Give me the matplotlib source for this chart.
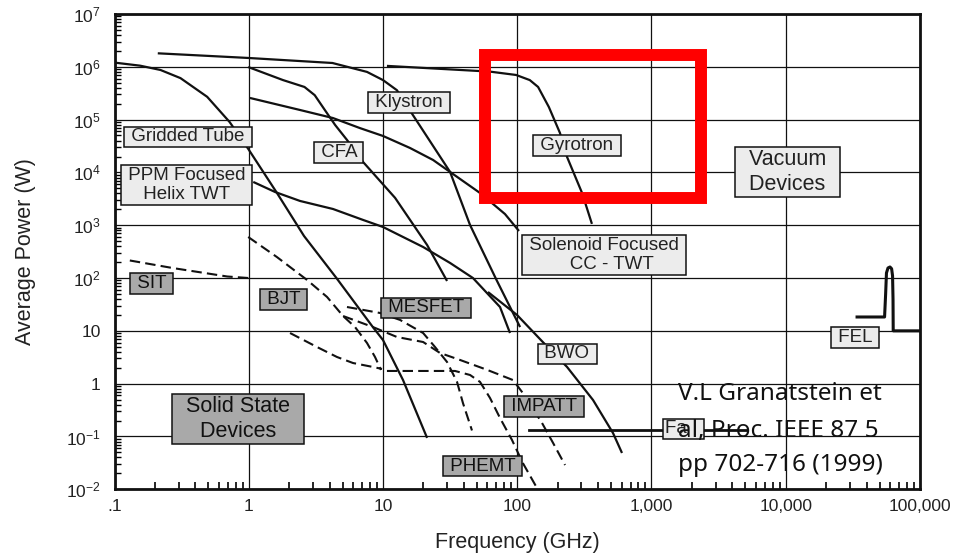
import numpy as np
import matplotlib
matplotlib.use("Agg")
import matplotlib.pyplot as plt
from matplotlib.ticker import LogLocator, FixedLocator, NullFormatter
from matplotlib.patches import Rectangle

plt.rcParams['font.family'] = ['Liberation Sans', 'DejaVu Sans']
plt.rcParams['mathtext.fontset'] = 'custom'
plt.rcParams['mathtext.rm'] = 'Liberation Sans'
plt.rcParams['mathtext.default'] = 'regular'

# ====================================
# 1. 数据 (频率 GHz, 平均功率 W)
# ====================================

# 真空器件 (实线)
gridded_f = [0.1, 0.155, 0.22, 0.31, 0.49, 0.72, 0.99, 1.62, 2.58, 4.5, 8.4, 10, 14.1, 21.3]
gridded_p = [1.2e6, 1.05e6, 8.7e5, 6.1e5, 2.7e5, 9.0e4, 2.8e4, 4.1e3, 625, 100, 11.8, 6.7, 1.17, 0.094]

klystron_f = [0.21, 0.99, 4.2, 7.6, 10, 12.7, 16.7, 31.6, 44.5, 69.5, 93, 105]
klystron_p = [1.8e6, 1.47e6, 1.18e6, 8.0e5, 5.6e5, 3.6e5, 1.22e5, 1.02e4, 1010, 96, 21.8, 11.8]

cfa_f = [0.99, 1.8, 2.6, 3.1, 3.7, 4.4, 5.4, 7.1, 12.3, 21.3, 30]
cfa_p = [9.9e5, 5.6e5, 4.15e5, 2.9e5, 1.5e5, 7.9e4, 4.1e4, 1.58e4, 3.3e3, 423, 88]

cctwt_f = [1.02, 2.41, 4.24, 6.74, 10, 15.9, 23.6, 31.6, 52.8, 81, 103]
cctwt_p = [2.57e5, 1.52e5, 1.07e5, 6.9e4, 4.9e4, 2.9e4, 1.72e4, 1.02e4, 4.08e3, 1.63e3, 778]

gyrotron_f = [10.7, 62.7, 98, 124, 143, 172, 208, 235, 304, 360]
gyrotron_p = [1.04e6, 8.1e5, 7.0e5, 5.6e5, 4.15e5, 1.73e5, 5.6e4, 1.96e4, 4.08e3, 1.06e3]

ppm_f = [1.08, 1.57, 2.41, 4.24, 7.1, 10, 19.9, 31.6, 46.8, 59.5, 74.4, 88.3]
ppm_p = [6.6e3, 4.26e3, 2.88e3, 2.03e3, 1.26e3, 926, 387, 193, 100, 52, 28.3, 9.1]

bwo_f = [60.5, 99.6, 155, 235, 367, 517, 603]
bwo_p = [54.4, 20.0, 6.15, 2.07, 0.49, 0.116, 0.0487]

fa_f = [122, 5140]
fa_p = [0.13, 0.13]

fel_f = [34000, 54500, 55500, 56300, 57800, 59800, 61500, 62500, 63000, 63200, 100000]
fel_p = [18.3, 18.3, 50, 125, 155, 162, 150, 110, 40, 10, 10]

# 固态器件 (虚线)
sit_f = [0.13, 0.27, 0.69, 1.0]
sit_p = [215, 155, 107, 100]

bjt1_f = [0.99, 1.62, 2.72, 3.83, 5.04, 6.19, 7.6, 8.72, 9.66]
bjt1_p = [599, 250, 91.8, 43.8, 19.1, 11.8, 5.89, 3.2, 1.82]

bjt2_f = [2.03, 3.22, 4.54, 5.98, 8.42, 9.83]
bjt2_p = [9.1, 4.95, 3.2, 2.46, 2.07, 1.9]

mesfet_f = [5.39, 9.5, 13.4, 19.9, 24.4, 30.0, 35.6, 39.4, 46.0]
mesfet_p = [28.3, 21.8, 16.1, 9.1, 4.95, 2.57, 1.08, 0.43, 0.13]

phemt_f = [10.7, 23.6, 34.4, 44.5, 52.8, 62.7, 74.4, 91.4, 110, 143]
phemt_p = [1.74, 1.74, 1.74, 1.46, 1.08, 0.535, 0.224, 0.0858, 0.0315, 0.0097]

impatt_f = [5.04, 8.42, 12.7, 19.9, 26.6, 37.5, 59.5, 93, 110, 153, 185, 227]
impatt_p = [19.1, 11.8, 7.65, 6.15, 3.81, 2.81, 1.83, 1.17, 0.666, 0.18, 0.0752, 0.0288]

# 坐标轴刻度
x_ticks = [0.1, 1, 10, 100, 1000, 10000, 100000]
x_labels = ['.1', '1', '10', '100', '1,000', '10,000', '100,000']
y_ticks = [1e-2, 1e-1, 1, 10, 1e2, 1e3, 1e4, 1e5, 1e6, 1e7]
y_labels = ['$10^{-2}$', '$10^{-1}$', '1', '10', '$10^{2}$', '$10^{3}$',
            '$10^{4}$', '$10^{5}$', '$10^{6}$', '$10^{7}$']

# 标签 (文字, 频率, 功率, 字号)
light_labels = [
    (' Gridded Tube ', 0.353, 4.69e4, 13.5),
    (' PPM Focused \n Helix TWT ', 0.344, 5.78e3, 13.5),
    (' CFA ', 4.66, 2.38e4, 13.5),
    (' Klystron ', 15.6, 2.11e5, 13.5),
    (' Gyrotron ', 279, 3.24e4, 13.5),
    (' Solenoid Focused \n   CC - TWT', 443, 273, 13.5),
    (' BWO ', 235, 3.65, 13.5),
    (' FEL ', 32800, 7.48, 13.5),
    ('  Vacuum  \n  Devices  ', 10300, 1.02e4, 15.5),
]
dark_labels = [
    (' SIT ', 0.1887, 78.9, 13.5),
    (' BJT ', 1.815, 39.3, 13.5),
    (' MESFET ', 20.9, 27.1, 13.5),
    ('  Solid State  \n  Devices  ', 0.832, 0.214, 15.5),
    (' IMPATT ', 158, 0.37, 13.5),
    (' PHEMT ', 55.1, 0.0276, 13.5),
]

citation = ['V.L Granatstein et', 'al, Proc. IEEE 87 5', 'pp 702-716 (1999)']

# ====================================
# 2. 绘图
# ====================================

fig = plt.figure(figsize=(9.56, 5.59), dpi=100)
ax = fig.add_axes([0.1198, 0.1247, 0.8425, 0.8503])

ax.set_xscale('log')
ax.set_yscale('log')
ax.set_xlim(0.1, 1e5)
ax.set_ylim(1e-2, 1e7)

solid = dict(color='#111111', lw=1.6, solid_capstyle='butt', zorder=3)
for f, p in [(gridded_f, gridded_p), (klystron_f, klystron_p), (cfa_f, cfa_p),
             (cctwt_f, cctwt_p), (gyrotron_f, gyrotron_p), (ppm_f, ppm_p),
             (bwo_f, bwo_p)]:
    ax.plot(f, p, **solid)

ax.plot(fa_f, fa_p, color='#111111', lw=2.0, zorder=3)
ax.plot(fel_f, fel_p, color='#111111', lw=2.2, zorder=3)

dashed = dict(color='#111111', lw=1.5, linestyle=(0, (5, 2.5)), zorder=3)
for f, p in [(sit_f, sit_p), (bjt1_f, bjt1_p), (bjt2_f, bjt2_p),
             (mesfet_f, mesfet_p), (phemt_f, phemt_p), (impatt_f, impatt_p)]:
    ax.plot(f, p, **dashed)

# 标签框
for text, f, p, fs in light_labels:
    ax.text(f, p, text, fontsize=fs, ha='center', va='center', multialignment='center',
            color='#222222', zorder=5,
            bbox=dict(boxstyle='square,pad=0.1', fc='#ececec', ec='#111111', lw=1.1))
for text, f, p, fs in dark_labels:
    ax.text(f, p, text, fontsize=fs, ha='center', va='center', multialignment='center',
            color='#111111', zorder=5,
            bbox=dict(boxstyle='square,pad=0.1', fc='#a9a9a9', ec='#111111', lw=1.1))

ax.text(1730, 0.139, 'Fa   ', fontsize=13.5, ha='center', va='center', color='#222222',
        zorder=5, bbox=dict(boxstyle='square,pad=0.1', fc='#ececec', ec='#111111', lw=1.1))

# 坐标轴
ax.xaxis.set_major_locator(FixedLocator(x_ticks))
ax.set_xticklabels(x_labels, fontsize=12.5, color='#222222')
ax.yaxis.set_major_locator(FixedLocator(y_ticks))
ax.set_yticklabels(y_labels, fontsize=12.5, color='#222222')
ax.xaxis.set_minor_locator(LogLocator(base=10, subs=np.arange(2, 10), numticks=20))
ax.yaxis.set_minor_locator(LogLocator(base=10, subs=np.arange(2, 10), numticks=20))
ax.xaxis.set_minor_formatter(NullFormatter())
ax.yaxis.set_minor_formatter(NullFormatter())
ax.tick_params(axis='x', which='major', direction='in', length=0, pad=7)
ax.tick_params(axis='y', which='major', direction='in', length=0, pad=10)
ax.tick_params(axis='x', which='minor', direction='in', length=5, width=1.2)
ax.tick_params(axis='y', which='minor', direction='in', length=4, width=1.0)

ax.grid(True, which='major', color='#111111', lw=0.9, zorder=1)
ax.set_axisbelow(True)
for side in ['left', 'bottom', 'top', 'right']:
    ax.spines[side].set_linewidth(2.0)
    ax.spines[side].set_color('#111111')

ax.set_xlabel('Frequency (GHz)', fontsize=15.5, color='#222222')
ax.xaxis.set_label_coords(0.5, -0.089)
ax.set_ylabel('Average Power (W)', fontsize=15.5, color='#222222')
ax.yaxis.set_label_coords(-0.098, 0.5)

# 引用文字
for i, line in enumerate(citation):
    fig.text(0.7092, [0.2844, 0.2182, 0.1574][i], line, fontsize=17.5,
             family=['Noto Sans', 'DejaVu Sans'], color='#111111', va='baseline', zorder=10)

# 红色方框
fig.patches.append(Rectangle((0.5078, 0.6458), 0.2259, 0.2558, transform=fig.transFigure,
                             fill=False, ec='#ff0000', lw=8.6, zorder=10))

plt.savefig('out.png', dpi=100)
